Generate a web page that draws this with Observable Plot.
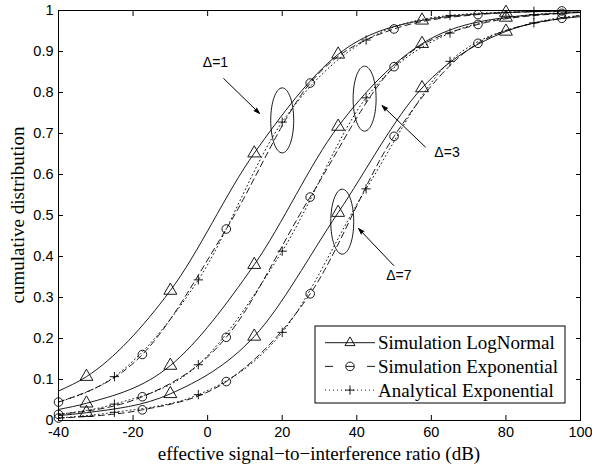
<!DOCTYPE html>
<html>
<head>
<meta charset="utf-8">
<script src="https://cdn.jsdelivr.net/npm/d3@7"></script>
<script src="https://cdn.jsdelivr.net/npm/@observablehq/plot@0.6"></script>
<style>
  html, body { margin: 0; padding: 0; background: #fff; }
  #chart { width: 592px; height: 468px; }
</style>
</head>
<body>
<div id="chart"></div>
<script>
// ---------- data ----------
const deltas = ["Δ=1", "Δ=3", "Δ=7"];
const seriesNames = ["Simulation LogNormal", "Simulation Exponential", "Analytical Exponential"];
const xTicks = [-40, -20, 0, 20, 40, 60, 80, 100];
const yTicks = [0, 0.1, 0.2, 0.3, 0.4, 0.5, 0.6, 0.7, 0.8, 0.9, 1];
const xAxisTitle = "effective signal\u2212to\u2212interference ratio (dB)";
const yAxisTitle = "cumulative distribution";

// marker positions (dB)
const xLogNormal = [-32.5, -10, 12.5, 35, 57.5, 80];
const xExponential = [-40, -17.5, 5, 27.5, 50, 72.5, 95];
const xAnalytical = [-25, -2.5, 20, 42.5, 65, 87.5];

// Simulation LogNormal, per Δ
const logNormalD1 = [0.107, 0.317, 0.652, 0.893, 0.976, 0.995];
const logNormalD3 = [0.042, 0.134, 0.380, 0.717, 0.919, 0.983];
const logNormalD7 = [0.019, 0.065, 0.205, 0.507, 0.811, 0.949];
// Simulation Exponential, per Δ
const exponentialD1 = [0.045, 0.161, 0.467, 0.823, 0.955, 0.990, 0.999];
const exponentialD3 = [0.015, 0.058, 0.203, 0.545, 0.863, 0.966, 0.993];
const exponentialD7 = [0.006, 0.026, 0.095, 0.309, 0.693, 0.920, 0.981];
// Analytical Exponential, per Δ
const analyticalD1 = [0.107, 0.343, 0.728, 0.928, 0.988, 0.998];
const analyticalD3 = [0.040, 0.136, 0.413, 0.787, 0.945, 0.990];
const analyticalD7 = [0.020, 0.063, 0.215, 0.565, 0.876, 0.970];

// curve values at the axis ends (x = -40 and x = 100), per Δ
const curveStartX = -40, curveEndX = 100;
const logNormalStart = [0.072, 0.027, 0.012];
const logNormalEnd = [0.999, 0.995, 0.985];
const exponentialEnd = [1.0, 0.996, 0.988];

// annotations (data coordinates)
const noteLabelX = [2.1, 64.2, 51.3];
const noteLabelY = [0.873, 0.654, 0.353];
const ringX = [20.0, 42.1, 36.1];
const ringY = [0.732, 0.785, 0.485];
const arrowFromX = [4.3, 58.4, 49.9];
const arrowFromY = [0.834, 0.667, 0.378];
const arrowToX = [13.9, 46.8, 40.5];
const arrowToY = [0.749, 0.768, 0.468];

// ---------- build tables ----------
const markerRows = [];
const lineRows = [];
const logN = [logNormalD1, logNormalD3, logNormalD7];
const expo = [exponentialD1, exponentialD3, exponentialD7];
const anal = [analyticalD1, analyticalD3, analyticalD7];
deltas.forEach((d, i) => {
  xLogNormal.forEach((x, j) => markerRows.push({series: seriesNames[0], delta: d, x, y: logN[i][j]}));
  xExponential.forEach((x, j) => markerRows.push({series: seriesNames[1], delta: d, x, y: expo[i][j]}));
  xAnalytical.forEach((x, j) => markerRows.push({series: seriesNames[2], delta: d, x, y: anal[i][j]}));

  lineRows.push({series: seriesNames[0], delta: d, x: curveStartX, y: logNormalStart[i]});
  xLogNormal.forEach((x, j) => lineRows.push({series: seriesNames[0], delta: d, x, y: logN[i][j]}));
  lineRows.push({series: seriesNames[0], delta: d, x: curveEndX, y: logNormalEnd[i]});

  xExponential.forEach((x, j) => lineRows.push({series: seriesNames[1], delta: d, x, y: expo[i][j]}));
  lineRows.push({series: seriesNames[1], delta: d, x: curveEndX, y: exponentialEnd[i]});

  lineRows.push({series: seriesNames[2], delta: d, x: curveStartX, y: expo[i][0]});
  xAnalytical.forEach((x, j) => lineRows.push({series: seriesNames[2], delta: d, x, y: anal[i][j]}));
  lineRows.push({series: seriesNames[2], delta: d, x: curveEndX, y: exponentialEnd[i]});
});
const notes = deltas.map((d, i) => ({
  label: d, lx: noteLabelX[i], ly: noteLabelY[i],
  rx: ringX[i], ry: ringY[i],
  x1: arrowFromX[i], y1: arrowFromY[i], x2: arrowToX[i], y2: arrowToY[i]
}));

// ---------- styles ----------
const styles = {
  [seriesNames[0]]: {dash: null, symbol: "triangle", r: 4.8, legendDash: null},
  [seriesNames[1]]: {dash: "6,4", symbol: "circle", r: 4.3, legendDash: "8,13,8,13,8"},
  [seriesNames[2]]: {dash: "1,3", symbol: "plus", r: 3.1, legendDash: "1,3"}
};
const lw = 0.9;

function ellipseSymbol(rx, ry) {
  const k = 0.5523;
  return {
    draw(ctx) {
      ctx.moveTo(rx, 0);
      ctx.bezierCurveTo(rx, ry * k, rx * k, ry, 0, ry);
      ctx.bezierCurveTo(-rx * k, ry, -rx, ry * k, -rx, 0);
      ctx.bezierCurveTo(-rx, -ry * k, -rx * k, -ry, 0, -ry);
      ctx.bezierCurveTo(rx * k, -ry, rx, -ry * k, rx, 0);
      ctx.closePath();
    }
  };
}

const seriesMarks = seriesNames.flatMap(s => [
  Plot.line(lineRows.filter(r => r.series === s), {
    x: "x", y: "y", z: "delta", curve: "monotone-x",
    stroke: "black", strokeWidth: lw, strokeDasharray: styles[s].dash
  }),
  Plot.dot(markerRows.filter(r => r.series === s), {
    x: "x", y: "y", symbol: styles[s].symbol, r: styles[s].r,
    stroke: "black", fill: "none", strokeWidth: lw
  })
]);

const tickOnly = {tickSize: -5, tickFormat: () => "", label: null, strokeWidth: 1};

const chart = Plot.plot({
  width: 592,
  height: 468,
  marginLeft: 58,
  marginRight: 12,
  marginTop: 10,
  marginBottom: 48,
  x: {domain: [-40, 100]},
  y: {domain: [0, 1]},
  style: {
    fontFamily: "'Liberation Sans', Arial, sans-serif",
    fontSize: "14.5px",
    color: "black",
    background: "white"
  },
  marks: [
    Plot.axisX({anchor: "bottom", ticks: xTicks, tickSize: 0, tickPadding: 6, tickFormat: d => String(d), label: null}),
    Plot.axisY({anchor: "left", ticks: yTicks, tickSize: 0, tickPadding: 5, tickFormat: d => String(d), label: null}),
    Plot.axisX({anchor: "bottom", ticks: xTicks, ...tickOnly}),
    Plot.axisX({anchor: "top", ticks: xTicks, ...tickOnly}),
    Plot.axisY({anchor: "left", ticks: yTicks, ...tickOnly}),
    Plot.axisY({anchor: "right", ticks: yTicks, ...tickOnly}),
    ...seriesMarks,
    Plot.dot(notes, {x: "rx", y: "ry", symbol: ellipseSymbol(11.5, 32.5), r: 10, stroke: "black", fill: "none", strokeWidth: lw}),
    Plot.arrow(notes, {x1: "x1", y1: "y1", x2: "x2", y2: "y2", stroke: "black", fill: "black", strokeWidth: 1, headLength: 9, headAngle: 36}),
    Plot.text(notes, {x: "lx", y: "ly", text: "label", fontSize: 14, fill: "black", fontFamily: "'Liberation Sans', Arial, sans-serif"}),
    Plot.frame({stroke: "black", strokeWidth: 1})
  ]
});

document.getElementById("chart").appendChild(chart);

// ---------- axis titles and legend ----------
const svgSel = d3.select(chart);
const serif = "'Liberation Serif', 'Times New Roman', serif";
const plotLeft = 58, plotRight = 580, plotTop = 10, plotBottom = 420;

svgSel.append("text")
  .attr("x", (plotLeft + plotRight) / 2).attr("y", 460)
  .attr("text-anchor", "middle")
  .attr("font-family", serif).attr("font-size", 19).attr("fill", "black")
  .text(xAxisTitle);

svgSel.append("text")
  .attr("transform", `translate(23.5, ${(plotTop + plotBottom) / 2}) rotate(-90)`)
  .attr("text-anchor", "middle")
  .attr("font-family", serif).attr("font-size", 19).attr("fill", "black")
  .text(yAxisTitle);

const legend = svgSel.append("g").attr("text-anchor", "start");
const boxX = 315, boxY = 326, boxW = 250, boxH = 77;
legend.append("rect")
  .attr("x", boxX).attr("y", boxY).attr("width", boxW).attr("height", boxH)
  .attr("fill", "white").attr("stroke", "black").attr("stroke-width", 1);

const symbolTypes = {triangle: d3.symbolTriangle2, circle: d3.symbolCircle, plus: d3.symbolPlus};
seriesNames.forEach((s, i) => {
  const cy = boxY + 16.7 + i * 23.7;
  const st = styles[s];
  legend.append("line")
    .attr("x1", boxX + 10).attr("x2", boxX + 60).attr("y1", cy).attr("y2", cy)
    .attr("stroke", "black").attr("stroke-width", lw)
    .attr("stroke-dasharray", st.legendDash);
  legend.append("path")
    .attr("transform", `translate(${boxX + 35},${cy})`)
    .attr("d", d3.symbol(symbolTypes[st.symbol], Math.PI * st.r * st.r)())
    .attr("fill", "none").attr("stroke", "black").attr("stroke-width", lw);
  legend.append("text")
    .attr("x", boxX + 63).attr("y", cy + 6.6)
    .attr("text-anchor", "start")
    .attr("font-family", serif).attr("font-size", 19).attr("fill", "black")
    .text(s);
});
</script>
</body>
</html>
